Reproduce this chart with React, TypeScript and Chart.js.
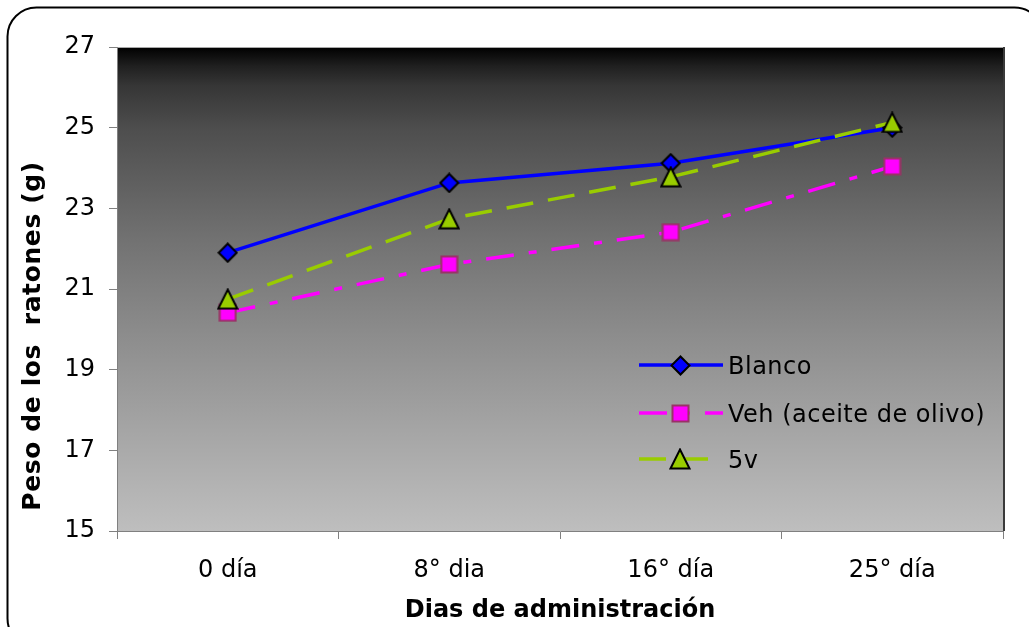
import React, { useEffect, useRef } from 'react';
import { Chart, registerables } from 'chart.js';

Chart.register(...registerables);

// ---- data ----
const categories = ['0 día', '8° dia', '16° día', '25° día'];
const blanco = [21.9, 23.63, 24.12, 25.0];
const veh = [20.41, 21.61, 22.41, 24.04];
const cincoV = [20.75, 22.74, 23.78, 25.13];
const seriesNames = ['Blanco', 'Veh (aceite de olivo)', '5v'];
const yMin = 15;
const yMax = 27;
const yStep = 2;
const xTitle = 'Dias de administración';
const yTitle = 'Peso de los  ratones (g)';

const FONT = '"DejaVu Sans", Verdana, sans-serif';

function makeMarker(kind: string, fill: string, stroke: string, size: number, lw: number) {
  const c = document.createElement('canvas');
  c.width = size;
  c.height = size;
  const ctx = c.getContext('2d')!;
  const h = size / 2;
  const m = lw / 2 + 0.5;
  ctx.beginPath();
  if (kind === 'diamond') {
    ctx.moveTo(h, m);
    ctx.lineTo(size - m, h);
    ctx.lineTo(h, size - m);
    ctx.lineTo(m, h);
  } else if (kind === 'square') {
    ctx.rect(m, m, size - 2 * m, size - 2 * m);
  } else {
    ctx.moveTo(h, m);
    ctx.lineTo(size - m, size - m);
    ctx.lineTo(m, size - m);
  }
  ctx.closePath();
  ctx.fillStyle = fill;
  ctx.fill();
  ctx.lineWidth = lw;
  ctx.lineJoin = 'miter';
  ctx.strokeStyle = stroke;
  ctx.stroke();
  return c;
}

export default function App() {
  const ref = useRef<HTMLCanvasElement | null>(null);

  useEffect(() => {
    const canvas = ref.current;
    if (!canvas) return;

    const mDiamond = makeMarker('diamond', '#0000FF', '#000000', 21, 2);
    const mSquare = makeMarker('square', '#FF00FF', '#993366', 19, 2);
    const mTriangle = makeMarker('triangle', '#99CC00', '#000000', 22, 2);

    const styles = [
      { color: '#0000FF', dash: [] as number[], marker: mDiamond },
      { color: '#FF00FF', dash: [28, 15, 8, 15], marker: mSquare },
      { color: '#99CC00', dash: [27, 15], marker: mTriangle },
    ];

    const framePlugin = {
      id: 'framePlugin',
      beforeDraw(chart: any) {
        const { ctx, chartArea } = chart;
        ctx.save();
        ctx.fillStyle = '#ffffff';
        ctx.fillRect(0, 0, chart.width, chart.height);
        ctx.beginPath();
        (ctx as any).roundRect(7.5, 7.5, 1036, 640, 29);
        ctx.lineWidth = 2;
        ctx.strokeStyle = '#000000';
        ctx.stroke();
        const { left, right, top, bottom } = chartArea;
        const g = ctx.createLinearGradient(0, top, 0, bottom);
        g.addColorStop(0, '#000000');
        g.addColorStop(0.04, '#202020');
        g.addColorStop(0.08, '#363636');
        g.addColorStop(0.17, '#4e4e4e');
        g.addColorStop(0.4, '#727272');
        g.addColorStop(0.6, '#8d8d8d');
        g.addColorStop(0.8, '#a6a6a6');
        g.addColorStop(1, '#bebebe');
        ctx.fillStyle = g;
        ctx.fillRect(left, top, right - left, bottom - top);
        ctx.strokeStyle = '#a8a8a8';
        ctx.lineWidth = 1;
        ctx.beginPath();
        ctx.moveTo(left, top + 0.5);
        ctx.lineTo(right, top + 0.5);
        ctx.stroke();
        ctx.strokeStyle = '#3a3a3a';
        ctx.lineWidth = 2;
        ctx.beginPath();
        ctx.moveTo(right + 1, top);
        ctx.lineTo(right + 1, bottom);
        ctx.stroke();
        ctx.restore();
      },
      afterDraw(chart: any) {
        const { ctx } = chart;
        ctx.save();
        // axis titles
        ctx.fillStyle = '#000000';
        ctx.font = 'bold 24px ' + FONT;
        ctx.textAlign = 'center';
        ctx.textBaseline = 'alphabetic';
        const ca = chart.chartArea;
        ctx.fillText(xTitle, (ca.left + ca.right) / 2, 617);
        ctx.translate(40, 336);
        ctx.rotate(-Math.PI / 2);
        ctx.font = 'bold 25px ' + FONT;
        (ctx as any).letterSpacing = '0.6px';
        ctx.fillText(yTitle, 0, 0);
        ctx.restore();

        // legend
        ctx.save();
        const rows = [365, 413, 459];
        for (let i = 0; i < 3; i++) {
          const y = rows[i];
          const s = styles[i];
          ctx.strokeStyle = s.color;
          ctx.lineWidth = 3.5;
          ctx.setLineDash(s.dash);
          ctx.beginPath();
          ctx.moveTo(639, y);
          ctx.lineTo(i === 2 ? 713 : 723, y);
          ctx.stroke();
          ctx.setLineDash([]);
          const mk = s.marker;
          ctx.drawImage(mk, Math.round(680 - mk.width / 2), Math.round(y - mk.height / 2));
          ctx.fillStyle = '#000000';
          ctx.font = '24px ' + FONT;
          (ctx as any).letterSpacing = '0.5px';
          ctx.textAlign = 'left';
          ctx.textBaseline = 'alphabetic';
          ctx.fillText(seriesNames[i], 728, y + 9);
        }
        ctx.restore();
      },
    };

    const seriesData = [blanco, veh, cincoV];
    const chart = new Chart(canvas, {
      type: 'line',
      data: {
        labels: categories,
        datasets: seriesData.map((d, i) => ({
          label: seriesNames[i],
          data: d,
          borderColor: styles[i].color,
          backgroundColor: styles[i].color,
          borderWidth: 3.5,
          borderDash: styles[i].dash,
          pointStyle: styles[i].marker as any,
          pointRadius: 10,
          pointHoverRadius: 10,
          tension: 0,
          fill: false,
          order: 3 - i,
        })),
      },
      options: {
        responsive: false,
        animation: false,
        events: [],
        layout: { padding: { left: 0, top: 47, right: 26, bottom: 0 } },
        plugins: {
          legend: { display: false },
          tooltip: { enabled: false },
          title: { display: false },
        },
        scales: {
          x: {
            type: 'category',
            offset: true,
            grid: {
              offset: true,
              drawOnChartArea: false,
              drawTicks: true,
              tickLength: 8,
              color: '#808080',
            },
            border: { display: true, color: '#808080', width: 1 },
            ticks: {
              color: '#000000',
              font: { family: FONT, size: 24 },
              padding: 17,
              maxRotation: 0,
              autoSkip: false,
            },
            afterFit(scale: any) {
              scale.height = 96;
            },
          },
          y: {
            type: 'linear',
            min: yMin,
            max: yMax,
            grid: {
              drawOnChartArea: false,
              drawTicks: true,
              tickLength: 8,
              color: '#808080',
            },
            border: { display: true, color: '#808080', width: 1 },
            ticks: {
              stepSize: yStep,
              color: '#000000',
              font: { family: FONT, size: 24 },
              padding: 14,
            },
            afterFit(scale: any) {
              scale.width = 117;
            },
          },
        },
      },
      plugins: [framePlugin],
    });

    return () => {
      chart.destroy();
    };
  }, []);

  return (
    <div style={{ position: 'fixed', left: 0, top: 0, width: 1029, height: 627 }}>
      <canvas ref={ref} width={1029} height={627} style={{ display: 'block' }} />
    </div>
  );
}
